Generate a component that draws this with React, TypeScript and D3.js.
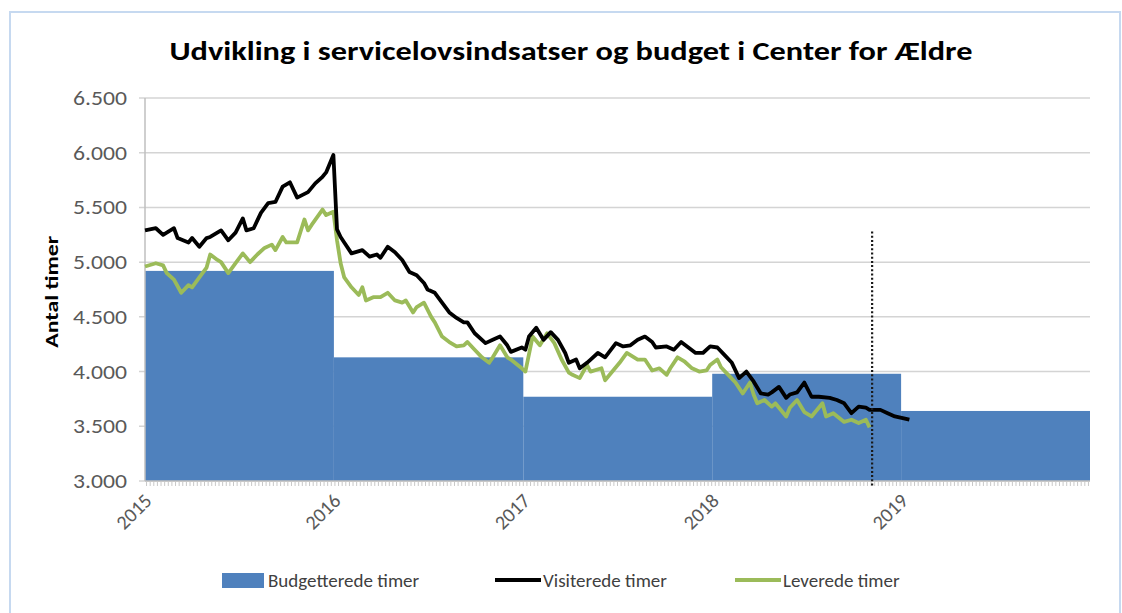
import React from 'react';
import * as d3 from 'd3';

const title = 'Udvikling i servicelovsindsatser og budget i Center for Ældre';
const yTitle = 'Antal timer';

// budget per year
const budgetYears = [2015, 2016, 2017, 2018, 2019];
const budgetValues = [4920, 4130, 3770, 3980, 3640];

// weekly series, week number counted from 1 Jan 2015
const visitWeeks = [0, 3, 5, 8, 9, 12, 13, 15, 17, 18, 21, 23, 25, 27, 28, 30, 32, 34, 36, 38, 40, 42, 45, 47, 49, 50, 52, 53, 54, 55, 57, 60, 62, 64, 65, 67, 69, 71, 73, 75, 77, 78, 80, 82, 84, 86, 88, 89, 91, 94, 96, 98, 100, 101, 104, 105, 106, 108, 110, 112, 114, 116, 117, 119, 120, 122, 123, 125, 127, 130, 132, 134, 136, 138, 140, 141, 144, 146, 148, 150, 152, 154, 156, 158, 160, 162, 164, 166, 168, 170, 172, 173, 175, 177, 178, 180, 182, 184, 186, 189, 191, 193, 195, 197, 199, 200, 203, 205, 207, 211];
const visitValues = [5290, 5310, 5250, 5310, 5220, 5180, 5220, 5140, 5220, 5230, 5290, 5200, 5270, 5400, 5290, 5310, 5450, 5540, 5550, 5690, 5730, 5590, 5640, 5720, 5780, 5820, 5980, 5300, 5230, 5180, 5080, 5110, 5050, 5070, 5040, 5140, 5090, 5020, 4910, 4880, 4810, 4750, 4720, 4630, 4540, 4490, 4450, 4450, 4350, 4260, 4290, 4320, 4240, 4180, 4220, 4200, 4320, 4400, 4290, 4360, 4290, 4170, 4080, 4110, 4030, 4080, 4110, 4170, 4130, 4260, 4230, 4240, 4290, 4320, 4270, 4220, 4230, 4200, 4270, 4220, 4170, 4170, 4230, 4220, 4150, 4080, 3940, 4000, 3910, 3800, 3790, 3810, 3860, 3760, 3790, 3810, 3900, 3770, 3770, 3760, 3740, 3710, 3620, 3680, 3670, 3650, 3650, 3620, 3590, 3560];

const deliveredWeeks = [0, 3, 5, 6, 8, 10, 12, 13, 15, 17, 18, 20, 21, 23, 25, 27, 29, 31, 33, 35, 36, 38, 39, 42, 44, 45, 46, 49, 50, 52, 53, 54, 55, 57, 59, 60, 61, 63, 65, 67, 69, 71, 72, 74, 75, 77, 79, 80, 82, 84, 86, 88, 89, 91, 93, 95, 96, 98, 100, 101, 104, 105, 107, 109, 111, 113, 115, 117, 118, 120, 122, 123, 126, 127, 129, 131, 133, 134, 136, 138, 140, 142, 144, 145, 147, 149, 151, 153, 155, 156, 158, 159, 161, 163, 165, 167, 168, 169, 171, 173, 174, 177, 178, 180, 182, 184, 187, 188, 190, 193, 195, 197, 199, 200];
const deliveredValues = [4960, 4990, 4970, 4900, 4840, 4720, 4790, 4770, 4860, 4950, 5070, 5020, 5000, 4900, 4990, 5080, 5000, 5070, 5130, 5160, 5110, 5230, 5180, 5180, 5390, 5290, 5340, 5480, 5430, 5460, 5200, 4990, 4860, 4770, 4700, 4770, 4650, 4680, 4680, 4720, 4650, 4630, 4650, 4540, 4590, 4630, 4500, 4450, 4320, 4270, 4230, 4240, 4270, 4200, 4130, 4080, 4130, 4240, 4130, 4110, 4030, 4000, 4320, 4240, 4350, 4260, 4110, 3990, 3970, 3940, 4060, 4000, 4030, 3920, 4000, 4080, 4170, 4150, 4110, 4110, 4010, 4030, 3970, 4030, 4130, 4090, 4030, 4000, 4010, 4060, 4110, 4040, 3970, 3900, 3800, 3900, 3790, 3710, 3740, 3680, 3710, 3590, 3670, 3740, 3630, 3590, 3710, 3590, 3620, 3540, 3560, 3530, 3560, 3490];

const yTicks = [3000, 3500, 4000, 4500, 5000, 5500, 6000, 6500];
const xTickYears = [2015, 2016, 2017, 2018, 2019];
const legendLabels = ['Budgetterede timer', 'Visiterede timer', 'Leverede timer'];

const markerDate = '2018-11-06';
const markerTop = 5280;

const W = 1122;
const H = 613;
const FONT = 'Carlito, Calibri, Lato, sans-serif';
const BLUE = '#4f81bd';
const GREEN = '#9bbb59';

const start = new Date(2015, 0, 1);
const weekDate = (w: number) => d3.timeDay.offset(start, w * 7);

export default function App() {
  const x = d3.scaleTime().domain([start, new Date(2020, 0, 1)]).range([145, 1090]);
  const y = d3.scaleLinear().domain([3000, 6500]).range([481, 98]);

  const line = d3
    .line<[number, number]>()
    .x(d => x(weekDate(d[0])))
    .y(d => y(d[1]));

  const visit = visitWeeks.map((w, i) => [w, visitValues[i]] as [number, number]);
  const delivered = deliveredWeeks.map((w, i) => [w, deliveredValues[i]] as [number, number]);

  const minorTicks = d3.timeWeek.range(start, new Date(2020, 0, 1));
  const mx = x(d3.timeParse('%Y-%m-%d')(markerDate) as Date);

  const legendX = [222, 495, 735];

  return (
    <div style={{ position: 'absolute', left: 0, top: 0, width: W, height: H, background: '#fff' }}>
      <svg width={W} height={H} style={{ display: 'block', fontFamily: FONT }}>
        <rect x={10} y={12} width={W - 12} height={H - 8} fill="#fff" stroke="#c6d9f0" strokeWidth={2} />

        <text x={571} y={60} textAnchor="middle" fontSize={26} fontWeight="bold" fill="#000"
          textLength={803} lengthAdjust="spacingAndGlyphs">
          {title}
        </text>

        {/* grid + y labels */}
        {yTicks.map(t => (
          <g key={t}>
            <line x1={139} x2={1090} y1={y(t)} y2={y(t)} stroke="#d4d4d4" strokeWidth={1.5} />
            <text x={127} y={y(t)} dy="0.35em" textAnchor="end" fontSize={20} fill="#595959"
              textLength={54} lengthAdjust="spacingAndGlyphs">
              {d3.format(',')(t).replace(',', '.')}
            </text>
          </g>
        ))}
        <text transform={`translate(58,${y(4730)}) rotate(-90)`} textAnchor="middle" fontSize={19}
          fontWeight="bold" fill="#000" textLength={112} lengthAdjust="spacingAndGlyphs">
          {yTitle}
        </text>

        {/* budget blocks */}
        {budgetYears.map((yr, i) => {
          const x0 = x(new Date(yr, 0, 1));
          const x1 = x(new Date(yr + 1, 0, 1));
          return (
            <rect key={yr} x={x0} y={y(budgetValues[i])} width={x1 - x0}
              height={y(3000) - y(budgetValues[i])} fill={BLUE} />
          );
        })}

        {/* axes */}
        <line x1={145} x2={145} y1={98} y2={481} stroke="#bfbfbf" strokeWidth={1.5} />
        <line x1={145} x2={1090} y1={481} y2={481} stroke="#bfbfbf" strokeWidth={1.5} />
        {minorTicks.map((d, i) => (
          <line key={i} x1={x(d)} x2={x(d)} y1={481} y2={486} stroke="#c8c8c8" strokeWidth={1} />
        ))}
        {xTickYears.map(yr => {
          const px = x(new Date(yr, 0, 1));
          return (
            <text key={yr} transform={`translate(${px + 8},${502}) rotate(-45)`} textAnchor="end"
              fontSize={20} fill="#595959">
              {yr}
            </text>
          );
        })}

        {/* lines */}
        <path d={line(delivered) || ''} fill="none" stroke={GREEN} strokeWidth={3.8} strokeLinejoin="round" />
        <path d={line(visit) || ''} fill="none" stroke="#000" strokeWidth={3.8} strokeLinejoin="round" />

        <line x1={mx} x2={mx} y1={y(markerTop)} y2={487} stroke="#1a1a1a" strokeWidth={2.2}
          strokeDasharray="2 2.2" />

        {/* legend */}
        <g fontSize={19} fill="#404040">
          <rect x={legendX[0]} y={573} width={42} height={15} fill={BLUE} />
          <text x={legendX[0] + 46} y={587}>{legendLabels[0]}</text>
          <line x1={legendX[1]} x2={legendX[1] + 46} y1={580} y2={580} stroke="#000" strokeWidth={4} />
          <text x={legendX[1] + 48} y={587}>{legendLabels[1]}</text>
          <line x1={legendX[2]} x2={legendX[2] + 46} y1={580} y2={580} stroke={GREEN} strokeWidth={4} />
          <text x={legendX[2] + 48} y={587}>{legendLabels[2]}</text>
        </g>
      </svg>
    </div>
  );
}
